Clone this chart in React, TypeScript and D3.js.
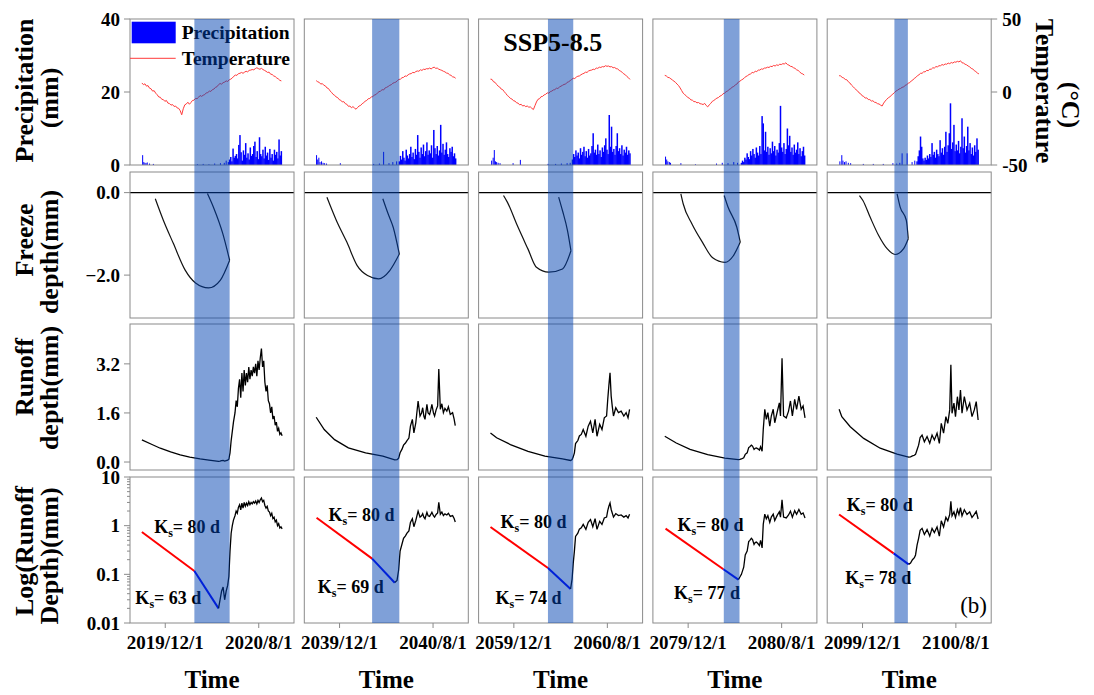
import React from 'react';
import * as d3 from 'd3';

// ---------------- DATA ----------------
const YEARS = [2020, 2040, 2060, 2080, 2100];
const SCENARIO = 'SSP5-8.5';
const PRECIP_TICKS = [0, 20, 40];
const TEMP_TICKS = [-50, 0, 50];
const FREEZE_TICKS = [0, -2];
const RUNOFF_TICKS = [0, 1.6, 3.2];
const LOG_TICKS = [0.01, 0.1, 1, 10];

// Temperature (°C), day 0 = Oct 1, one value every 4 days
const TEMP_STEP = 4;
const temp2020 = [6.2, 5.0, 5.6, 4.0, 4.4, 2.6, 2.2, 0.6, 0.9, -0.8, -1.9, -3.4, -3.6, -5.0, -5.2, -6.4, -5.8, -7.6, -7.9, -9.0, -8.6, -9.9, -9.6, -10.9, -11.2, -12.8, -15.6, -11.5, -8.8, -8.2, -7.0, -8.4, -7.2, -5.8, -5.6, -4.4, -4.6, -3.6, -2.4, -3.0, -2.2, -1.8, -0.6, -0.4, 0.6, 0.4, 1.6, 2.0, 3.2, 3.6, 5.0, 5.8, 5.4, 6.4, 6.8, 7.6, 7.2, 8.4, 8.8, 9.6, 10.8, 11.6, 11.4, 12.6, 12.8, 13.4, 12.8, 13.6, 14.2, 13.8, 14.8, 15.0, 15.4, 15.2, 16.0, 16.6, 16.0, 15.6, 16.2, 15.4, 14.8, 14.2, 13.4, 13.6, 12.2, 12.0, 11.0, 10.6, 9.6, 9.0, 8.0, 7.6];
const temp2040 = [7.8, 7.0, 6.6, 5.4, 5.8, 4.6, 4.2, 2.8, 2.4, 0.8, -0.2, -1.6, -2.2, -3.4, -3.8, -5.2, -5.6, -6.8, -6.6, -8.0, -8.4, -9.8, -9.6, -10.8, -10.0, -11.0, -11.8, -10.6, -9.6, -9.2, -8.0, -7.4, -6.2, -5.8, -4.6, -4.4, -3.4, -3.2, -2.0, -1.8, -0.6, 0.2, 0.6, 1.6, 1.4, 2.8, 3.2, 3.8, 4.6, 5.0, 6.0, 6.4, 6.8, 7.8, 8.6, 8.8, 9.8, 10.0, 11.0, 10.8, 11.8, 12.4, 12.6, 13.4, 13.2, 14.0, 14.4, 14.2, 15.2, 14.8, 15.6, 15.4, 16.0, 15.8, 16.4, 15.8, 16.6, 17.0, 16.2, 16.4, 15.6, 15.2, 14.8, 14.2, 13.8, 13.0, 12.8, 11.8, 11.4, 10.4, 10.2, 9.4];
const temp2060 = [8.8, 8.6, 7.0, 6.6, 5.2, 4.0, 3.4, 2.0, 1.6, 0.2, -1.0, -2.4, -3.2, -4.4, -4.8, -6.0, -6.2, -7.4, -7.6, -8.8, -8.4, -9.6, -9.2, -10.0, -9.6, -10.4, -10.2, -11.2, -12.0, -9.4, -6.8, -5.0, -4.6, -3.2, -3.0, -2.0, -1.6, -0.6, -0.8, 0.2, 0.6, 1.4, 1.6, 2.6, 2.4, 3.4, 4.0, 4.6, 5.2, 5.4, 6.6, 7.0, 7.8, 8.6, 9.4, 9.2, 10.2, 10.8, 11.0, 11.8, 12.4, 12.8, 13.6, 13.4, 14.4, 14.8, 15.0, 15.6, 15.4, 16.4, 16.2, 17.0, 16.8, 17.4, 17.2, 18.0, 17.6, 17.8, 17.2, 17.4, 16.6, 16.8, 16.0, 15.8, 14.8, 14.2, 13.4, 12.4, 11.8, 10.6, 9.8, 8.6];
const temp2080 = [11.4, 11.0, 10.0, 9.8, 9.0, 8.2, 7.4, 6.6, 5.4, 4.4, 2.8, 1.0, -0.8, -1.8, -2.6, -3.8, -4.2, -5.4, -5.6, -6.6, -6.6, -7.4, -7.2, -8.0, -8.2, -8.6, -7.8, -9.2, -10.2, -8.8, -7.8, -6.4, -5.8, -5.0, -4.2, -3.8, -2.8, -2.4, -1.2, -0.8, 0.2, 0.6, 1.8, 2.2, 3.4, 3.8, 4.8, 5.4, 6.8, 7.4, 8.2, 8.8, 9.8, 10.6, 11.2, 12.0, 12.4, 13.4, 13.2, 14.2, 14.0, 15.0, 15.0, 15.8, 15.6, 16.4, 16.4, 17.0, 16.8, 17.6, 17.4, 18.2, 17.8, 18.6, 18.2, 19.0, 18.8, 19.4, 19.2, 20.0, 18.8, 18.4, 17.6, 17.4, 16.6, 16.2, 15.2, 14.8, 13.8, 12.8, 12.4, 11.6];
const temp2100 = [11.2, 11.0, 10.0, 9.6, 8.6, 8.4, 7.0, 6.2, 4.8, 3.8, 2.6, 1.6, 0.8, -0.6, -1.2, -2.6, -3.0, -4.2, -4.0, -5.2, -5.2, -6.2, -6.0, -7.0, -7.2, -8.0, -8.2, -9.0, -9.6, -7.6, -6.2, -5.0, -4.0, -3.4, -2.2, -1.4, -0.4, 0.6, 1.2, 2.0, 2.4, 3.2, 3.4, 4.6, 5.0, 6.0, 6.4, 7.6, 8.2, 9.4, 10.0, 11.2, 11.8, 12.8, 12.8, 13.8, 13.8, 14.8, 14.6, 15.6, 15.6, 16.6, 16.4, 17.4, 17.2, 18.0, 18.0, 18.8, 18.4, 19.2, 19.0, 19.8, 19.4, 20.2, 19.8, 20.6, 20.4, 21.0, 20.6, 21.4, 20.0, 19.8, 19.0, 18.6, 17.8, 17.2, 16.2, 15.8, 14.6, 14.0, 13.0, 12.4];

// Wet-season precipitation (mm), every 3 days from the start day
const precipWetStart = [226, 217, 214, 200, 203];
const precipWet2020 = [0.8, 1.5, 2.2, 1.0, 4.5, 2.0, 2.5, 3.0, 1.8, 5.5, 8.2, 3.5, 1.2, 4.0, 2.8, 6.0, 2.0, 3.2, 1.5, 4.8, 2.5, 3.0, 5.2, 6.4, 2.2, 3.8, 1.6, 7.6, 3.0, 2.4, 4.2, 1.8, 5.0, 2.6, 3.4, 1.4, 4.4, 2.0, 3.0, 1.2, 4.2, 2.8, 3.6, 1.8, 7.0, 2.6, 3.8];
const precipWet2040 = [1.0, 2.5, 1.5, 3.8, 2.0, 1.2, 4.2, 2.6, 1.8, 3.0, 5.0, 2.2, 3.4, 1.6, 4.4, 2.8, 8.2, 3.6, 2.0, 4.8, 3.0, 5.6, 2.4, 3.8, 6.2, 2.8, 4.0, 3.2, 5.4, 2.0, 9.6, 4.6, 3.0, 5.2, 2.6, 4.0, 11.0, 3.4, 5.8, 2.8, 4.2, 6.2, 3.0, 2.2, 4.6, 3.6, 5.0, 2.4, 3.2, 1.8];
const precipWet2060 = [1.5, 3.0, 2.2, 4.0, 2.6, 3.4, 1.8, 4.6, 2.8, 3.6, 5.0, 2.4, 3.8, 2.0, 4.4, 2.6, 3.2, 5.2, 8.7, 3.4, 4.2, 2.8, 5.6, 3.0, 4.0, 2.2, 4.8, 3.6, 5.4, 7.3, 4.2, 3.0, 13.7, 5.0, 10.5, 3.6, 4.4, 2.8, 5.2, 8.7, 3.8, 4.6, 3.0, 5.4, 2.6, 4.2, 3.4, 5.0, 2.8, 4.0, 3.2];
const precipWet2080 = [0.6, 1.2, 0.8, 2.0, 1.5, 3.2, 2.2, 1.6, 3.8, 2.6, 4.4, 3.0, 2.0, 4.8, 3.4, 2.6, 5.2, 3.0, 13.4, 11.4, 4.0, 9.1, 3.6, 5.0, 2.8, 4.6, 3.2, 6.4, 3.8, 5.2, 2.6, 4.2, 3.4, 6.0, 16.2, 4.8, 3.6, 6.0, 3.0, 4.4, 10.0, 5.4, 8.0, 3.6, 4.8, 2.8, 5.6, 3.4, 4.2, 6.2, 3.0, 4.6, 2.4, 3.8, 5.0, 2.6];
const precipWet2100 = [1.0, 2.4, 4.0, 7.8, 5.0, 1.8, 1.2, 2.0, 1.4, 2.6, 1.8, 3.0, 2.2, 6.0, 2.8, 3.6, 2.0, 4.2, 3.0, 2.4, 6.8, 3.4, 4.6, 2.8, 5.0, 9.1, 3.6, 5.4, 8.7, 16.9, 4.4, 6.2, 11.0, 3.8, 5.6, 4.0, 6.6, 3.2, 5.0, 12.8, 4.6, 7.8, 3.4, 5.2, 10.5, 4.0, 6.0, 3.0, 4.8, 2.6, 5.4, 3.6, 7.3, 4.2];

// Dry-season precipitation events: [day, mm]
const precipDry2020 = [[2, 2.7], [5, 0.8], [8, 0.6], [11, 0.5], [14, 0.7], [20, 0.4], [30, 0.3], [145, 0.2], [160, 0.3], [175, 0.2], [190, 0.4], [205, 0.5], [215, 0.6], [220, 1.2]];
const precipDry2040 = [[1, 2.7], [4, 1.5], [7, 2.0], [10, 0.8], [14, 1.0], [18, 0.6], [22, 0.5], [27, 0.4], [63, 0.5], [150, 0.3], [165, 0.4], [176, 3.6], [190, 0.5], [200, 0.8], [210, 1.0]];
const precipDry2060 = [[3, 1.2], [7, 2.0], [10, 4.1], [13, 1.0], [16, 0.8], [20, 0.6], [25, 0.5], [59, 0.5], [78, 1.4], [150, 0.3], [170, 0.3], [185, 0.4], [200, 0.5], [208, 0.6]];
const precipDry2080 = [[2, 2.3], [5, 1.5], [8, 1.0], [12, 0.8], [15, 0.6], [42, 0.5], [80, 0.2], [135, 0.4], [150, 0.6], [165, 0.5], [180, 0.8], [190, 0.6]];
const precipDry2100 = [[2, 1.0], [7, 2.7], [10, 1.2], [14, 0.8], [18, 1.0], [24, 0.6], [30, 0.5], [63, 0.3], [89, 0.3], [115, 0.3], [140, 0.5], [150, 0.4], [158, 0.6], [164, 3.2], [177, 3.2], [190, 0.8], [197, 1.2]];

// Freeze depth (mm): freezing front and thawing front, [day, depth]
const freezeFront2020 = [[35, -0.15], [56, -0.67], [82, -1.23], [113, -1.88], [140, -2.19], [174, -2.31], [205, -2.12], [229, -1.64]];
const thawFront2020 = [[171, -0.02], [187, -0.36], [211, -0.99], [229, -1.64]];
const freezeFront2040 = [[28, -0.11], [53, -0.68], [80, -1.2], [107, -1.77], [134, -2.01], [163, -2.09], [192, -1.89], [217, -1.49]];
const thawFront2040 = [[174, -0.15], [188, -0.52], [201, -0.84], [217, -1.49]];
const freezeFront2060 = [[34, -0.07], [44, -0.23], [70, -0.8], [98, -1.37], [120, -1.81], [152, -1.93], [188, -1.85], [210, -1.41]];
const thawFront2060 = [[178, -0.11], [188, -0.44], [201, -0.92], [210, -1.41]];
const freezeFront2080 = [[42, -0.03], [48, -0.27], [71, -0.76], [98, -1.2], [125, -1.58], [157, -1.69], [179, -1.53], [197, -1.2]];
const thawFront2080 = [[155, -0.07], [165, -0.35], [188, -0.84], [197, -1.2]];
const freezeFront2100 = [[53, -0.07], [62, -0.19], [81, -0.6], [103, -1.04], [125, -1.36], [146, -1.5], [168, -1.36], [180, -1.12]];
const thawFront2100 = [[151, -0.03], [159, -0.35], [175, -0.67], [180, -1.12]];

// Runoff depth (mm): [day, value]
const runoff2020 = [[0, 0.72], [25, 0.58], [48, 0.45], [75, 0.33], [100, 0.23], [125, 0.16], [152, 0.1], [175, 0.06], [200, 0.02], [204, 0.03], [208, 0.045], [212, 0.055], [216, 0.03], [220, 0.045], [224, 0.06], [227, 0.09], [230, 0.3], [233, 0.7], [236, 1.0], [239, 1.3], [243, 1.6], [246, 2.0], [249, 1.8], [252, 2.4], [255, 2.7], [258, 2.1], [261, 2.9], [264, 2.3], [267, 3.0], [270, 2.5], [273, 2.9], [276, 2.6], [279, 3.1], [282, 2.7], [285, 3.0], [288, 2.8], [291, 3.1], [294, 2.9], [297, 3.2], [300, 2.8], [303, 3.3], [306, 3.0], [309, 3.4], [312, 3.7], [315, 3.1], [318, 3.3], [321, 2.6], [324, 2.3], [327, 2.5], [330, 2.0], [333, 1.9], [336, 1.6], [339, 1.8], [342, 1.4], [345, 1.5], [348, 1.2], [351, 1.3], [354, 1.0], [357, 1.1], [360, 0.9], [363, 0.95], [366, 0.86]];
const runoff2040 = [[0, 1.46], [21, 1.06], [48, 0.73], [84, 0.46], [129, 0.3], [174, 0.19], [205, 0.068], [211, 0.075], [215, 0.12], [219, 0.3], [224, 0.42], [228, 0.55], [233, 0.62], [237, 0.7], [242, 0.78], [246, 1.17], [251, 1.39], [255, 0.95], [260, 1.28], [266, 1.99], [271, 1.5], [275, 1.6], [278, 1.77], [281, 1.5], [284, 1.39], [289, 1.88], [292, 1.6], [296, 1.55], [299, 1.7], [302, 1.88], [306, 1.6], [309, 1.5], [313, 1.7], [317, 1.83], [320, 3.03], [324, 1.72], [328, 1.9], [332, 1.61], [336, 1.75], [341, 1.66], [345, 1.8], [350, 1.55], [356, 1.61], [360, 1.4], [363, 1.19]];
const runoff2060 = [[0, 0.95], [16, 0.79], [52, 0.57], [98, 0.35], [142, 0.19], [188, 0.1], [209, 0.05], [213, 0.08], [216, 0.17], [219, 0.3], [222, 0.6], [228, 0.7], [232, 0.85], [237, 0.9], [242, 1.06], [249, 0.84], [255, 1.17], [261, 1.33], [267, 0.95], [273, 1.39], [278, 0.84], [285, 1.23], [291, 1.06], [297, 1.44], [303, 1.5], [306, 2.04], [309, 2.5], [312, 2.91], [315, 2.15], [318, 1.8], [321, 1.5], [327, 1.77], [334, 1.61], [341, 1.66], [348, 1.5], [354, 1.61], [359, 1.44], [363, 1.72]];
const runoff2080 = [[0, 0.84], [30, 0.62], [66, 0.41], [112, 0.24], [157, 0.13], [192, 0.078], [196, 0.088], [200, 0.1], [206, 0.14], [210, 0.25], [215, 0.3], [219, 0.47], [222, 0.5], [226, 0.55], [229, 0.52], [233, 0.41], [236, 0.45], [239, 0.46], [243, 0.43], [247, 0.39], [250, 0.5], [254, 0.35], [257, 1.06], [261, 1.72], [265, 1.39], [269, 1.61], [274, 1.17], [278, 1.5], [283, 1.72], [287, 1.28], [293, 1.61], [299, 1.93], [302, 1.5], [306, 3.38], [310, 1.5], [317, 1.44], [323, 1.66], [328, 1.99], [333, 1.5], [339, 2.04], [344, 1.72], [350, 2.15], [356, 1.72], [361, 1.83], [366, 1.44]];
const runoff2100 = [[0, 1.72], [7, 1.48], [29, 1.15], [64, 0.77], [107, 0.45], [151, 0.26], [181, 0.16], [186, 0.17], [191, 0.2], [196, 0.22], [199, 0.25], [203, 0.4], [207, 0.55], [211, 0.8], [216, 0.88], [222, 0.66], [229, 0.83], [236, 0.61], [242, 0.88], [248, 0.72], [255, 0.94], [261, 0.61], [266, 1.26], [272, 0.94], [278, 1.48], [283, 1.26], [288, 1.7], [291, 3.17], [294, 1.59], [299, 1.92], [303, 1.48], [308, 2.13], [312, 1.7], [316, 2.35], [320, 1.59], [326, 2.13], [333, 1.7], [340, 1.92], [346, 1.48], [352, 1.7], [357, 1.97], [362, 1.37]];

// Recession fits: [startDay, startValue, endDay, endValue]
const fitRed = [[0, 0.74, 137, 0.117], [1, 1.45, 146, 0.21], [0, 0.94, 150, 0.135], [2, 0.87, 153, 0.127], [0, 1.7, 142, 0.27]];
const fitBlue = [[137, 0.117, 200, 0.02], [146, 0.21, 205, 0.067], [150, 0.135, 209, 0.05], [153, 0.127, 192, 0.078], [142, 0.27, 181, 0.16]];
const ksEarly = [80, 80, 80, 80, 80];
const ksLate = [63, 69, 74, 77, 78];
// label anchors [day, value] for the Ks annotations
const ksEarlyAt = [[32, 0.95], [32, 1.66], [26, 1.19], [33, 1.03], [20, 2.66]];
const ksLateAt = [[-17, 0.033], [4, 0.055], [13, 0.033], [24, 0.041], [16, 0.084]];

// Highlighted thaw periods [startDay, endDay]
const bands = [[137, 229], [146, 217], [150, 216], [154, 195], [144, 179]];

const temps = [temp2020, temp2040, temp2060, temp2080, temp2100];
const wets = [precipWet2020, precipWet2040, precipWet2060, precipWet2080, precipWet2100];
const drys = [precipDry2020, precipDry2040, precipDry2060, precipDry2080, precipDry2100];
const freezes = [freezeFront2020, freezeFront2040, freezeFront2060, freezeFront2080, freezeFront2100];
const thaws = [thawFront2020, thawFront2040, thawFront2060, thawFront2080, thawFront2100];
const runoffs = [runoff2020, runoff2040, runoff2060, runoff2080, runoff2100];

// ---------------- LAYOUT ----------------
const W = 1094, H = 695;
const FONT = '"Liberation Serif", "Times New Roman", Times, serif';
const PX0 = 130, PDX = 174.3, PW = 164;
const ROWS = [19, 172, 324, 477];
const RH = 146;
const GRAY = '#8a8a8a';

const yPrecip = d3.scaleLinear().domain([0, 40]).range([ROWS[0] + RH, ROWS[0]]);
const yTemp = d3.scaleLinear().domain([-50, 50]).range([ROWS[0] + RH, ROWS[0]]);
const yFreeze = d3.scaleLinear().domain([-3.04, 0.5]).range([ROWS[1] + RH, ROWS[1]]);
const yRunoff = d3.scaleLinear().domain([-0.26, 4.5]).range([ROWS[2] + RH, ROWS[2]]);
const yLog = d3.scaleLog().domain([0.01, 10]).range([ROWS[3] + RH, ROWS[3]]);
const fmtDate = d3.timeFormat('%Y/%-m/%-d');

const dayDate = (y: number, d: number) => d3.timeDay.offset(new Date(y - 1, 9, 1), d);

function Column({ i }: { i: number }) {
  const y = YEARS[i];
  const x0 = PX0 + i * PDX;
  const xs = d3.scaleTime().domain([new Date(y - 1, 7, 31), new Date(y, 10, 1)]).range([x0, x0 + PW]);
  const X = (d: number) => xs(dayDate(y, d));

  const tempLine = d3.line<number>().x((_, k) => X(k * TEMP_STEP)).y(v => yTemp(v))(temps[i]) || '';
  const freezeGen = d3.line<number[]>().x(p => X(p[0])).y(p => yFreeze(p[1])).curve(d3.curveMonotoneX);
  const runoffLine = d3.line<number[]>().x(p => X(p[0])).y(p => yRunoff(p[1]))(runoffs[i]) || '';
  const blueEnd = fitBlue[i][2];
  const logLine = d3.line<number[]>().x(p => X(p[0])).y(p => yLog(Math.max(0.01, p[1])))(runoffs[i].filter(p => p[0] >= blueEnd)) || '';
  const fr = fitRed[i], fb = fitBlue[i];
  const ticks = [new Date(y - 1, 11, 1), new Date(y, 7, 1)];
  const [b0, b1] = bands[i];
  const bx0 = X(b0), bx1 = X(b1);

  const ksText = (at: number[], ks: number, key: string) => {
    const tx = X(at[0]);
    const ty = yLog(at[1]) + 6;
    return (
      <text key={key} x={tx} y={ty} fontFamily={FONT} fontWeight="bold" fontSize={18} fill="#000">
        K<tspan fontSize={12} dy={4}>s</tspan><tspan dy={-4}>= {ks} d</tspan>
      </text>
    );
  };

  return (
    <g>
      {/* Row 1: precipitation & temperature */}
      {wets[i].map((v, k) => {
        const d = precipWetStart[i] + k * 3;
        return <rect key={'w' + k} x={X(d) - 0.75} y={yPrecip(v)} width={1.5} height={yPrecip(0) - yPrecip(v)} fill="#0000ff" />;
      })}
      {drys[i].map((p, k) => (
        <rect key={'d' + k} x={X(p[0]) - 0.5} y={yPrecip(p[1])} width={1} height={yPrecip(0) - yPrecip(p[1])} fill="#0000ff" />
      ))}
      <path d={tempLine} fill="none" stroke="#ff3a3a" strokeWidth={1} />

      {/* Row 2: freeze depth */}
      <line x1={x0} x2={x0 + PW} y1={yFreeze(0)} y2={yFreeze(0)} stroke="#000" strokeWidth={1.4} />
      <path d={freezeGen(freezes[i]) || ''} fill="none" stroke="#111" strokeWidth={1.2} />
      <path d={freezeGen(thaws[i]) || ''} fill="none" stroke="#111" strokeWidth={1.2} />

      {/* Row 3: runoff */}
      <path d={runoffLine} fill="none" stroke="#000" strokeWidth={1.3} />

      {/* Row 4: log runoff */}
      <line x1={X(fr[0])} y1={yLog(fr[1])} x2={X(fr[2])} y2={yLog(fr[3])} stroke="#ff0000" strokeWidth={2} />
      <line x1={X(fb[0])} y1={yLog(fb[1])} x2={X(fb[2])} y2={yLog(fb[3])} stroke="#0000ff" strokeWidth={2} />
      <path d={logLine} fill="none" stroke="#000" strokeWidth={1.3} />
      {ksText(ksEarlyAt[i], ksEarly[i], 'ke')}
      {ksText(ksLateAt[i], ksLate[i], 'kl')}

      {/* panel frames */}
      {ROWS.map((ry, r) => (
        <rect key={'f' + r} x={x0} y={ry} width={PW} height={RH} fill="none" stroke={GRAY} strokeWidth={1} />
      ))}

      {/* x axis */}
      {ticks.map((t, k) => (
        <g key={'t' + k}>
          <line x1={xs(t)} x2={xs(t)} y1={ROWS[3] + RH} y2={ROWS[3] + RH + 5} stroke={GRAY} />
          <text x={xs(t)} y={649} textAnchor="middle" fontFamily={FONT} fontWeight="bold" fontSize={19}>{fmtDate(t)}</text>
        </g>
      ))}
      <text x={x0 + PW / 2} y={688} textAnchor="middle" fontFamily={FONT} fontWeight="bold" fontSize={25}>Time</text>

      {/* legend in first column */}
      {i === 0 && (
        <g>
          <rect x={131.7} y={21.7} width={44} height={21.6} fill="#0000ff" />
          <text x={181.7} y={39} fontFamily={FONT} fontWeight="bold" fontSize={19.5}>Precipitation</text>
          <line x1={130} x2={175.7} y1={58.3} y2={58.3} stroke="#ff3a3a" strokeWidth={1} />
          <text x={181.7} y={65} fontFamily={FONT} fontWeight="bold" fontSize={19.5}>Temperature</text>
        </g>
      )}

      {/* thaw period band */}
      <rect x={bx0} y={ROWS[0]} width={bx1 - bx0} height={ROWS[3] + RH - ROWS[0]} fill="rgb(0,65,177)" opacity={0.5} />

      {i === 2 && (
        <text x={503.3} y={50.7} fontFamily={FONT} fontWeight="bold" fontSize={26}>{SCENARIO}</text>
      )}
      {i === 4 && (
        <text x={987} y={613} textAnchor="end" fontFamily={FONT} fontSize={23}>(b)</text>
      )}
    </g>
  );
}

function LeftAxes() {
  const ax = PX0;
  const tick = (yy: number, label: string, key: string, len = 6) => (
    <g key={key}>
      <line x1={ax - len} x2={ax} y1={yy} y2={yy} stroke={GRAY} />
      {label && (
        <text x={ax - 10} y={yy} dy="0.35em" textAnchor="end" fontFamily={FONT} fontWeight="bold" fontSize={19}>{label}</text>
      )}
    </g>
  );
  const minors: number[] = [];
  [0.01, 0.1, 1].forEach(dec => { for (let m = 2; m <= 9; m++) minors.push(dec * m); });
  return (
    <g>
      {PRECIP_TICKS.map(v => tick(yPrecip(v), String(v), 'p' + v))}
      {FREEZE_TICKS.map(v => tick(yFreeze(v), d3.format('.1f')(v), 'f' + v))}
      {RUNOFF_TICKS.map(v => tick(yRunoff(v), d3.format('.1f')(v), 'r' + v))}
      {LOG_TICKS.map(v => tick(yLog(v), String(v), 'l' + v))}
      {minors.map((v, k) => tick(yLog(v), '', 'm' + k, 3))}
    </g>
  );
}

function RightAxis() {
  const ax = PX0 + 4 * PDX + PW;
  return (
    <g>
      {TEMP_TICKS.map(v => (
        <g key={v}>
          <line x1={ax} x2={ax + 6} y1={yTemp(v)} y2={yTemp(v)} stroke={GRAY} />
          <text x={ax + 11} y={yTemp(v)} dy="0.35em" fontFamily={FONT} fontWeight="bold" fontSize={19}>{v}</text>
        </g>
      ))}
    </g>
  );
}

const leftTitles = [
  { l1: 'Precipitation', c1: 90.5, l2: '(mm)', c2: 98 },
  { l1: 'Freeze', c1: 240, l2: 'depth(mm)', c2: 252 },
  { l1: 'Runoff', c1: 377, l2: 'depth(mm)', c2: 388 },
  { l1: 'Log(Runoff', c1: 551, l2: 'Depth)(mm)', c2: 556 },
];

export default function App() {
  return (
    <svg width={W} height={H} style={{ position: 'absolute', left: 0, top: 0, background: '#fff' }}>
      <rect x={0} y={0} width={W} height={H} fill="#fff" />
      {YEARS.map((_, i) => <Column key={i} i={i} />)}
      <LeftAxes />
      <RightAxis />
      {leftTitles.map((t, k) => (
        <g key={k} fontFamily={FONT} fontWeight="bold" fontSize={26}>
          <text transform={`translate(33,${t.c1}) rotate(-90)`} textAnchor="middle">{t.l1}</text>
          <text transform={`translate(58,${t.c2}) rotate(-90)`} textAnchor="middle">{t.l2}</text>
        </g>
      ))}
      <g fontFamily={FONT} fontWeight="bold" fontSize={26}>
        <text transform="translate(1036,91) rotate(90)" textAnchor="middle">Temperature</text>
        <text transform="translate(1062,105) rotate(90)" textAnchor="middle">(°C)</text>
      </g>
    </svg>
  );
}
